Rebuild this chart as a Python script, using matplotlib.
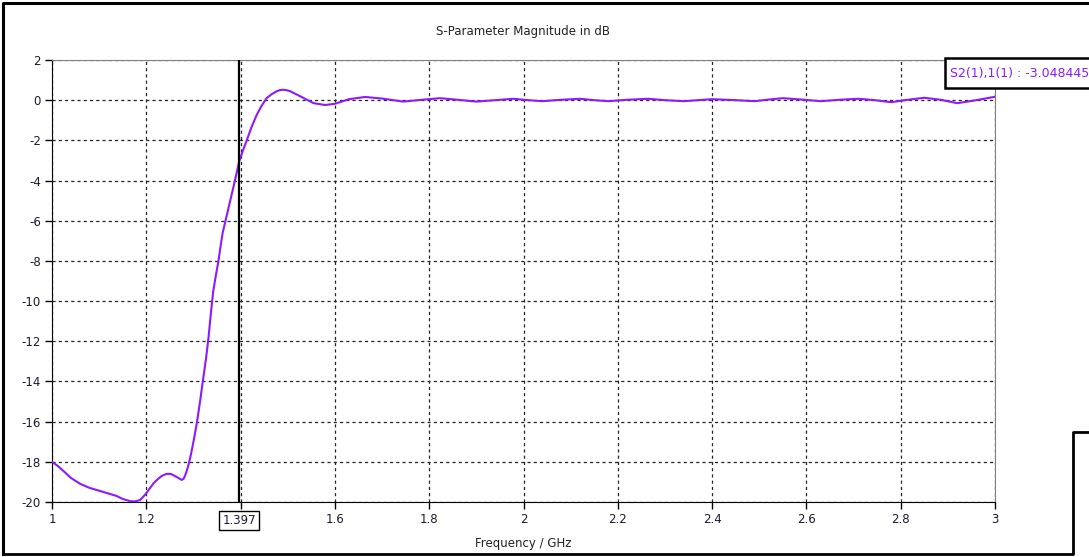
#!/usr/bin/env python3
"""S-parameter magnitude (S21) of a high-pass filter, redrawn from a CST screenshot."""

import matplotlib
matplotlib.use("Agg")
import matplotlib.pyplot as plt
from matplotlib.lines import Line2D
from matplotlib.patches import Rectangle

# Values
freq = [1.000, 1.012, 1.024, 1.040, 1.060, 1.080, 1.109, 1.137, 1.150, 1.166,
        1.176, 1.187, 1.197, 1.208, 1.216, 1.225, 1.233, 1.243, 1.252, 1.260,
        1.268, 1.275, 1.279, 1.282, 1.285, 1.289, 1.295, 1.300, 1.307, 1.314,
        1.321, 1.327, 1.332, 1.337, 1.342, 1.347, 1.353, 1.358, 1.362, 1.370,
        1.378, 1.387, 1.397, 1.405, 1.413, 1.423, 1.434, 1.444, 1.455, 1.466,
        1.477, 1.483, 1.490, 1.497, 1.505, 1.530, 1.555, 1.579, 1.600, 1.630,
        1.664, 1.700, 1.745, 1.785, 1.823, 1.860, 1.900, 1.940, 1.978, 2.010,
        2.040, 2.080, 2.120, 2.150, 2.180, 2.220, 2.265, 2.300, 2.340, 2.370,
        2.400, 2.450, 2.490, 2.520, 2.550, 2.590, 2.630, 2.670, 2.710, 2.745,
        2.780, 2.815, 2.850, 2.885, 2.920, 2.960, 3.000]
s21_db = [-18.0, -18.2, -18.45, -18.8, -19.1, -19.3, -19.5, -19.7, -19.85, -19.96,
          -19.97, -19.9, -19.65, -19.3, -19.05, -18.85, -18.7, -18.6, -18.6, -18.7,
          -18.8, -18.9, -18.85, -18.7, -18.5, -18.2, -17.6, -17.0, -16.1, -15.0,
          -13.8, -12.8, -11.8, -10.6, -9.5, -8.8, -8.0, -7.2, -6.6, -5.8,
          -5.0, -4.1, -3.05, -2.5, -2.0, -1.35, -0.74, -0.3, 0.1, 0.3,
          0.45, 0.5, 0.52, 0.5, 0.45, 0.15, -0.15, -0.24, -0.18, 0.05,
          0.16, 0.08, -0.07, 0.02, 0.10, 0.02, -0.07, 0.0, 0.07, 0.0,
          -0.05, 0.02, 0.07, 0.0, -0.05, 0.02, 0.07, 0.0, -0.05, 0.0,
          0.05, 0.0, -0.05, 0.03, 0.1, 0.03, -0.05, 0.02, 0.07, 0.0,
          -0.1, 0.02, 0.12, 0.02, -0.15, 0.0, 0.17]
marker_freq = 1.397
marker_text = "S2(1),1(1) : -3.048445"
xticks = [1.0, 1.2, 1.4, 1.6, 1.8, 2.0, 2.2, 2.4, 2.6, 2.8, 3.0]
xtick_labels = ["1", "1.2", "", "1.6", "1.8", "2", "2.2", "2.4", "2.6", "2.8", "3"]
yticks = list(range(-20, 3, 2))

W, H = 1089, 557
purple = "#8c1aff"
plt.rcParams["font.family"] = ["DejaVu Sans"]
plt.rcParams["axes.unicode_minus"] = False

fig = plt.figure(figsize=(W / 100, H / 100), dpi=100)
ax = fig.add_axes([52 / W, 1 - 502 / H, (995 - 52) / W, (502 - 60) / H])

ax.plot(freq, s21_db, color=purple, lw=1.5, zorder=3)
ax.axvline(marker_freq, color="black", lw=1.6, zorder=4)

ax.set_xlim(1, 3)
ax.set_ylim(-20, 2)
ax.set_xticks(xticks)
ax.set_xticklabels(xtick_labels)
ax.set_yticks(yticks)
ax.grid(True, color="#222222", linestyle=(0, (2.5, 2.5)), lw=0.9)
ax.tick_params(direction="out", length=5, width=1, labelsize=8.5,
               labelcolor="#1a1a2e", pad=3)
for side in ("left", "bottom"):
    ax.spines[side].set_color("black")
for side in ("top", "right"):
    ax.spines[side].set_color("#808080")

ax.annotate(f"{marker_freq:.3f}", xy=(marker_freq, -20), xycoords="data",
            xytext=(0, -13), textcoords="offset points", ha="center", va="center",
            fontsize=8.5, color="#1a1a2e",
            bbox=dict(boxstyle="square,pad=0.25", fc="white", ec="black", lw=1))

fig.text(523 / W, 1 - 32 / H, "S-Parameter Magnitude in dB", ha="center",
         va="center", fontsize=8.5, color="#222222")
fig.text(523 / W, 1 - 544 / H, "Frequency / GHz", ha="center", va="center",
         fontsize=8.5, color="#222222")

# marker readout box, cut off by the right edge like the screenshot
fig.patches.append(Rectangle((945 / W, 1 - 88 / H), 160 / W, 30 / H,
                             transform=fig.transFigure, fc="white", ec="black",
                             lw=1.8, zorder=5))
fig.text(950 / W, 1 - 73 / H, marker_text, ha="left", va="center",
         fontsize=9, color=purple, zorder=6)

# window frame
def px_line(xs, ys, lw):
    fig.lines.append(Line2D([x / W for x in xs], [1 - y / H for y in ys],
                            transform=fig.transFigure, color="black", lw=lw))

px_line([3, 3, W], [554, 3, 3], 2.2)
px_line([3, 1073, 1073, W], [554, 554, 432, 432], 2.0)

fig.savefig("out.png", dpi=100)
